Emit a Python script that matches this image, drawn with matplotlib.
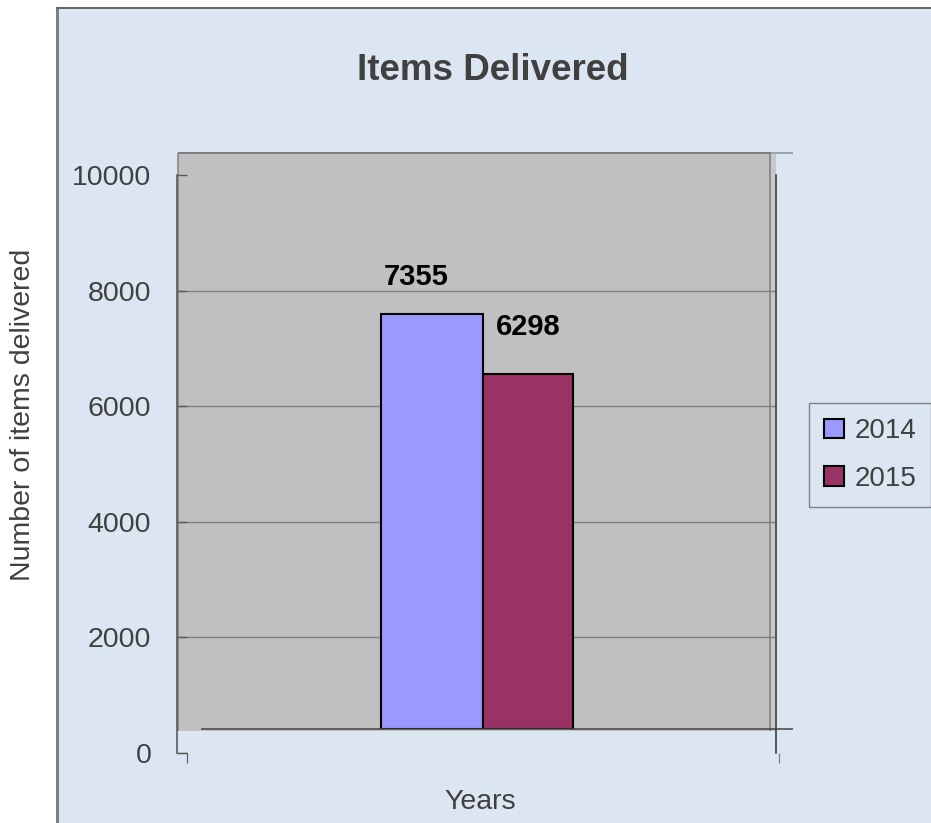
import matplotlib
matplotlib.use('Agg')
import matplotlib.pyplot as plt
from matplotlib.patches import Rectangle
from matplotlib.lines import Line2D
import numpy as np

plt.rcParams['font.family'] = ['Liberation Sans', 'DejaVu Sans']

title = "Items Delivered"
x_label = "Years"
y_label = "Number of items delivered"
series_names = ["2014", "2015"]
series_values = [7355, 6298]
y_ticks = [0, 2000, 4000, 6000, 8000, 10000]
series_colors = ["#9999FF", "#993366"]

W, H = 931, 823
fig = plt.figure(figsize=(W / 100, H / 100), dpi=100)
fig.patch.set_facecolor('white')

BG = '#DCE6F2'
TXT = '#404040'


def fx(px):
    return px / W


def fy(py):
    return 1 - py / H


def fline(xs, ys, color, lw, z=-0.4):
    fig.add_artist(Line2D([fx(v) for v in xs], [fy(v) for v in ys], color=color,
                          lw=lw * 0.72, transform=fig.transFigure, zorder=z,
                          solid_capstyle='butt'))


# chart background and border
fig.add_artist(Rectangle((fx(57), 0), 1 - fx(57), fy(8), transform=fig.transFigure,
                         facecolor=BG, edgecolor='none', zorder=-1))
fline([57, 57], [8, 823], '#7F7F7F', 3)
fline([56, 931], [8, 8], '#666666', 2)

# back wall
fig.add_artist(Rectangle((fx(178), fy(731)), fx(770) - fx(178), fy(153) - fy(731),
                         transform=fig.transFigure, facecolor='#C0C0C0',
                         edgecolor='none', zorder=-0.6))
fig.add_artist(Rectangle((fx(770), fy(731)), fx(776) - fx(770), fy(153) - fy(731),
                         transform=fig.transFigure, facecolor='#C8C8C8',
                         edgecolor='none', zorder=-0.6))
fline([770, 770], [153, 731], '#8C8C8C', 2)
fline([178, 178], [153, 731], '#808080', 1.5)
fline([178, 771], [153, 153], '#7F7F7F', 2)
fline([771, 793], [153, 153], '#9AA4B4', 2)
fline([201, 793], [729, 729], '#404040', 1.5, z=0.5)
# small corner ticks
fline([177, 187, 187], [753, 753, 763], '#595959', 1.2)
fline([779, 779], [753, 763], '#7F7F7F', 1.2)

# front axes: scale, ticks, gridlines
ax = fig.add_axes([fx(177), fy(753), (776 - 177) / W, (753 - 175) / H])
ax.set_facecolor('none')
ax.set_ylim(y_ticks[0], y_ticks[-1])
ax.set_xlim(-0.5, 0.5)
ax.set_xticks([])
ax.set_yticks(y_ticks)
ax.set_yticklabels([str(t) for t in y_ticks])
ax.tick_params(axis='y', direction='in', length=7.2, width=1, color='#595959',
               labelsize=20.5, labelcolor=TXT, pad=18.5)
for s in ['top', 'bottom']:
    ax.spines[s].set_visible(False)
ax.spines['left'].set_color('#595959')
ax.spines['right'].set_color('#404040')
ax.spines['left'].set_linewidth(1.2)
ax.spines['right'].set_linewidth(1.2)
for t in y_ticks[1:-1]:
    ax.axhline(t, color='#808080', lw=1, zorder=0.5)

# bar axes (bars drawn on the back floor)
bx = fig.add_axes([fx(177), fy(729), (776 - 177) / W, (729 - 165) / H])
bx.set_facecolor('none')
bx.set_ylim(y_ticks[0], y_ticks[-1])
bx.set_xlim(-0.5, 0.5)
bx.axis('off')

group_start = -0.159
bar_widths = [0.170, 0.150]
lefts = group_start + np.concatenate([[0], np.cumsum(bar_widths)[:-1]])
bars = []
for i, (name, val) in enumerate(zip(series_names, series_values)):
    b = bx.bar(lefts[i], val, width=bar_widths[i], align='edge',
               color=series_colors[i], edgecolor='black', lw=1.5, label=name,
               zorder=2)
    bars.append(b)

label_offsets = [(-11.5, 26.5), (0, 34)]
for i, val in enumerate(series_values):
    bx.annotate(str(val), xy=(lefts[i] + bar_widths[i] / 2, val),
                xytext=label_offsets[i], textcoords='offset points',
                ha='center', va='center', fontsize=21, fontweight='bold',
                color='black', zorder=3)

# texts
fig.text(fx(493), fy(80), title, ha='center', va='baseline', fontsize=26.5,
         fontweight='bold', color=TXT)
fig.text(fx(480), fy(809), x_label, ha='center', va='baseline', fontsize=20.5,
         color=TXT)
fig.text(fx(23), fy(415), y_label, ha='center', va='center', rotation=90,
         fontsize=20.5, color=TXT)

leg = fig.legend(handles=[b[0] for b in bars], labels=series_names,
                 loc='upper left', bbox_to_anchor=(fx(809), fy(403)),
                 bbox_transform=fig.transFigure, frameon=True, fancybox=False,
                 edgecolor='#808080', facecolor=BG, framealpha=1, fontsize=20,
                 handlelength=0.72, handleheight=0.72, handletextpad=0.36,
                 borderpad=0.55, labelspacing=0.78, borderaxespad=0,
                 labelcolor=TXT)
leg.get_frame().set_linewidth(1)

fig.savefig('out.png', dpi=100, facecolor='white')
